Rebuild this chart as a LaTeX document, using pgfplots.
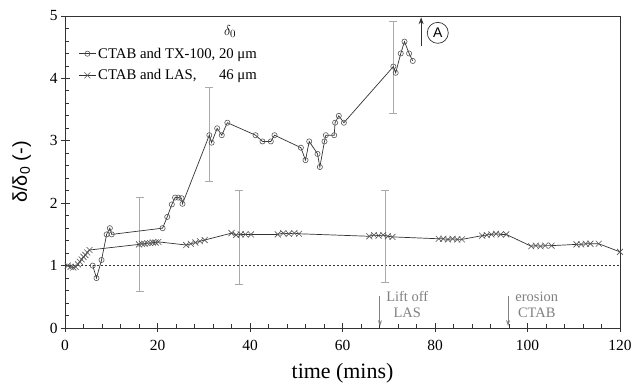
\documentclass[border=0pt]{standalone}
\usepackage{fontspec}
\setmainfont{Liberation Serif}
\newfontfamily\sansA{Liberation Sans}
\usepackage{pgfplots}
\pgfplotsset{compat=1.18}
\usetikzlibrary{arrows.meta}
\definecolor{linecol}{HTML}{333333}
\definecolor{markcol}{HTML}{555555}
\definecolor{barcol}{HTML}{AAAAAA}
\definecolor{annot}{HTML}{808080}
\begin{document}
\begin{tikzpicture}
\useasboundingbox (-65bp,-56bp) rectangle (568bp,328bp);
\begin{axis}[
 at={(0,0)}, anchor=south west,
 scale only axis, width=555bp, height=312bp,
 xmin=0, xmax=120, ymin=0, ymax=5,
 xtick={0,20,...,120}, ytick={0,1,...,5},
 minor x tick num=4, minor y tick num=4,
 tick pos=left, tick align=inside,
 major tick length=5bp, minor tick length=4bp,
 extra x ticks={0,20,...,120}, extra y ticks={0,1,...,5},
 extra x tick labels={}, extra y tick labels={},
 extra tick style={tick align=outside, major tick length=4bp},
 axis line style={linecol, line width=0.8bp},
 tick style={linecol, line width=0.8bp},
 /pgf/number format/assume math mode=true,
 tick label style={font=\fontsize{15.5}{18}\selectfont},
 xticklabel style={yshift=-9bp},
 yticklabel style={xshift=-4bp},
 xlabel={time (mins)},
 xlabel style={font=\fontsize{22}{26}\selectfont, yshift=-2bp},
 ylabel={{\sansA δ/δ\textsubscript{0} (-)}},
 ylabel style={font=\fontsize{20}{24}\selectfont, yshift=8bp},
 legend style={at={(rel axis cs:0.024,0.905)}, anchor=north west, draw=none, fill=none,
   font=\fontsize{14.8}{17}\selectfont, row sep=6bp, inner sep=0pt},
 legend cell align=left,
]
% reference line
\addplot[linecol, dashed, line width=0.6bp, dash pattern=on 2bp off 2bp, forget plot] coordinates {(0,1) (120,1)};
% error bars
\addplot[draw=none, mark=none, forget plot,
  error bars/.cd, y dir=both, y explicit,
  error bar style={draw=barcol, line width=0.9bp},
  error mark options={draw=barcol, rotate=90, mark size=4bp, line width=0.9bp}]
  coordinates {
  (16.2,1.34) +- (0,0.75)
  (31.2,3.10) +- (0,0.75)
  (37.7,1.45) +- (0,0.75)
  (69.2,1.47) +- (0,0.74)
  (71.0,4.18) +- (0,0.74)
  };
% CTAB and TX-100
\addplot[linecol, line width=0.7bp, mark=o, mark size=2.6bp,
  mark options={draw=markcol, fill=white, line width=0.6bp}]
  coordinates {
  (6.0,1.0) (6.8,0.8) (7.9,1.09) (9.0,1.5) (9.7,1.6) (10.1,1.5)
  (21.1,1.6) (22.1,1.78) (23.1,1.98) (23.8,2.09) (24.5,2.09) (25.2,2.08) (25.4,1.99)
  (31.2,3.09) (31.7,2.97) (32.9,3.20) (33.9,3.09) (35.1,3.29)
  (41.2,3.09) (42.7,2.99) (44.5,2.99) (45.3,3.09)
  (51.0,2.89) (52.0,2.69) (52.8,2.99) (54.6,2.79) (55.1,2.58) (56.1,2.99) (56.4,3.09)
  (58.2,3.09) (58.4,3.29) (59.2,3.40) (60.3,3.29)
  (71.0,4.19) (71.5,4.09) (72.6,4.40) (73.4,4.59) (74.4,4.40) (75.2,4.28)
  };
\addlegendentry{CTAB and TX-100, 20 μm}
% CTAB and LAS
\addplot[linecol, line width=0.7bp, mark=x, mark size=4.2bp,
  mark options={draw=markcol, line width=0.6bp}]
  coordinates {
  (0.6,1.0) (1.2,0.98) (1.8,0.97) (2.3,0.98) (2.8,1.02) (3.2,1.06) (3.6,1.10)
  (4.0,1.14) (4.4,1.17) (4.8,1.21) (5.3,1.25)
  (16.0,1.34) (16.6,1.35) (17.2,1.35) (17.8,1.36) (18.4,1.36) (19.0,1.37) (19.6,1.37) (20.2,1.38)
  (26.2,1.33) (27.2,1.35) (28.2,1.37) (29.2,1.39) (30.2,1.41)
  (36.0,1.52) (37.0,1.49) (38.0,1.50) (39.0,1.50) (40.2,1.50)
  (46.0,1.50) (47.2,1.52) (48.4,1.51) (49.6,1.52) (50.6,1.51)
  (65.8,1.47) (66.8,1.49) (67.8,1.48) (68.8,1.49) (69.8,1.47) (70.8,1.46)
  (80.8,1.43) (81.8,1.43) (82.8,1.42) (83.8,1.43) (84.8,1.42) (85.8,1.42)
  (90.2,1.48) (91.2,1.49) (92.2,1.50) (93.2,1.51) (94.2,1.50) (95.4,1.50)
  (100.8,1.31) (101.8,1.32) (102.8,1.31) (103.8,1.32) (105.2,1.32)
  (110.6,1.34) (111.6,1.34) (112.6,1.35) (113.6,1.35) (115.4,1.35)
  (120,1.22)
  };
\addlegendentry{\rlap{CTAB and LAS,}\phantom{CTAB and TX-100, }46 μm}
% annotations
\node[font=\fontsize{15}{17}\selectfont] at (axis cs:35.7,4.75) {$\delta_0$};
\draw[-{Stealth[length=7bp,width=5bp]}, linecol, line width=1.2bp] (axis cs:77.0,4.52) -- (axis cs:77.0,4.98);
\node[draw=linecol, circle, line width=0.7bp, minimum size=21bp, inner sep=0pt,
  font=\sansA\fontsize{14}{16}\selectfont] at (axis cs:80.6,4.73) {A};
\draw[-{Stealth[length=6bp,width=4bp]}, annot, line width=1bp] (axis cs:68.1,0.52) -- (axis cs:68.1,0.03);
\node[annot, align=center, font=\fontsize{14.5}{16}\selectfont] at (axis cs:74.0,0.37) {Lift off\\LAS};
\draw[-{Stealth[length=6bp,width=4bp]}, annot, line width=1bp] (axis cs:95.8,0.52) -- (axis cs:95.8,0.03);
\node[annot, align=center, font=\fontsize{14.5}{16}\selectfont] at (axis cs:102.0,0.37) {erosion\\CTAB};
\end{axis}
\end{tikzpicture}
\end{document}
